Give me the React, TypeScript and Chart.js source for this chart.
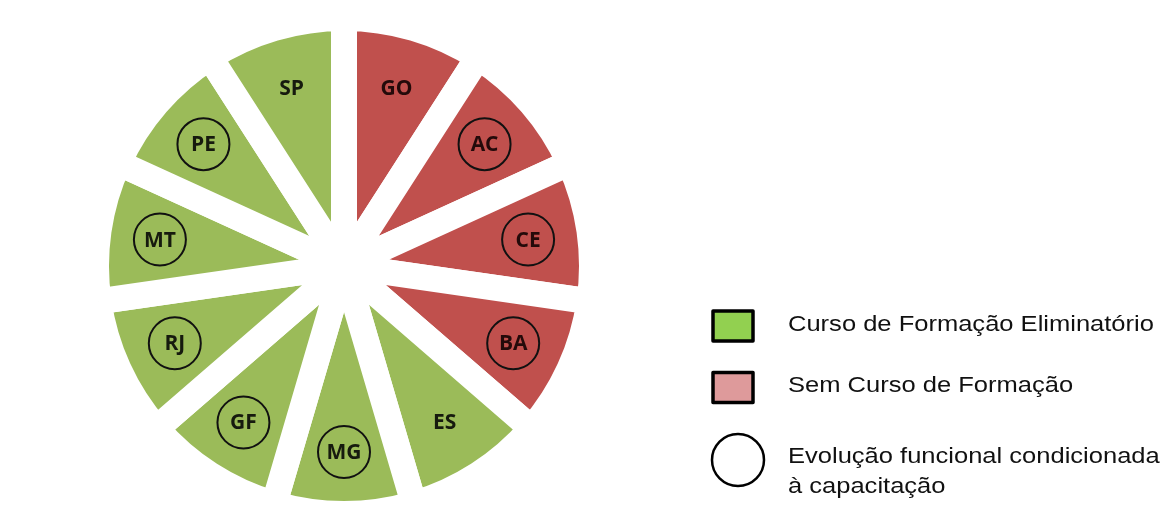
import { useEffect, useRef } from "react";
import { Chart, registerables } from "chart.js";

Chart.register(...registerables);

// States in clockwise order, starting at twelve o'clock
const states = ["GO", "AC", "CE", "BA", "ES", "MG", "GF", "RJ", "MT", "PE", "SP"];
// Every state gets an equal share of the wheel
const shares = [1, 1, 1, 1, 1, 1, 1, 1, 1, 1, 1];
// true = eliminatory training course, false = no training course
const eliminatoryCourse = [false, false, false, false, true, true, true, true, true, true, true];
// true = career progression conditioned on training (circled)
const conditionedProgression = [false, true, true, true, false, true, true, true, true, true, false];

const legendTexts: (string | string[])[] = [
  "Curso de Formação Eliminatório",
  "Sem Curso de Formação",
  ["Evolução funcional condicionada", "à capacitação"],
];

const GREEN = "#9BBB59";
const RED = "#C0504D";
const LEGEND_GREEN = "#92D050";
const LEGEND_PINK = "#DE9A9B";

const sliceLabels = {
  id: "sliceLabels",
  afterDatasetsDraw(chart: any) {
    const ctx: CanvasRenderingContext2D = chart.ctx;
    const meta = chart.getDatasetMeta(0);
    meta.data.forEach((arc: any, i: number) => {
      const { x, y, startAngle, endAngle, outerRadius } = arc.getProps(
        ["x", "y", "startAngle", "endAngle", "outerRadius"],
        true
      );
      const mid = (startAngle + endAngle) / 2;
      const r = outerRadius * 0.75;
      const cx = x + Math.cos(mid) * r;
      const cy = y + Math.sin(mid) * r;
      ctx.save();
      if (conditionedProgression[i]) {
        ctx.beginPath();
        ctx.arc(cx, cy, 26, 0, Math.PI * 2);
        ctx.lineWidth = 2;
        ctx.strokeStyle = "#111111";
        ctx.stroke();
      }
      ctx.font = "bold 21px 'Open Sans', 'Noto Sans', sans-serif";
      ctx.textAlign = "center";
      ctx.textBaseline = "middle";
      ctx.fillStyle = eliminatoryCourse[i] ? "#161a0e" : "#240a0a";
      ctx.fillText(states[i], cx, cy + 1);
      ctx.restore();
    });
  },
};

const drawWideText = (ctx: CanvasRenderingContext2D, text: string, x: number, y: number) => {
  ctx.save();
  ctx.translate(x, y);
  ctx.scale(1.16, 1);
  ctx.fillText(text, 0, 0);
  ctx.restore();
};

const stateLegend = {
  id: "stateLegend",
  afterDraw(chart: any) {
    const ctx: CanvasRenderingContext2D = chart.ctx;
    ctx.save();
    ctx.lineJoin = "round";
    ctx.strokeStyle = "#000000";

    // colour boxes
    const boxes = [
      { fill: LEGEND_GREEN, y: 311 },
      { fill: LEGEND_PINK, y: 372.5 },
    ];
    boxes.forEach((b) => {
      ctx.beginPath();
      ctx.rect(713, b.y, 40, 30);
      ctx.fillStyle = b.fill;
      ctx.fill();
      ctx.lineWidth = 3.5;
      ctx.stroke();
    });

    // open circle symbol
    ctx.beginPath();
    ctx.arc(738, 460, 26, 0, Math.PI * 2);
    ctx.lineWidth = 2.5;
    ctx.stroke();

    ctx.fillStyle = "#111111";
    ctx.font = "22px 'Liberation Sans', Arial, sans-serif";
    ctx.textAlign = "left";
    ctx.textBaseline = "alphabetic";
    const baselines = [331, 392, [463, 493]];
    legendTexts.forEach((t, i) => {
      if (Array.isArray(t)) {
        const bl = baselines[i] as number[];
        t.forEach((line, j) => drawWideText(ctx, line, 788, bl[j]));
      } else {
        drawWideText(ctx, t, 788, baselines[i] as number);
      }
    });
    ctx.restore();
  },
};

export default function App() {
  const canvasRef = useRef<HTMLCanvasElement | null>(null);

  useEffect(() => {
    if (!canvasRef.current) return;
    const chart = new Chart(canvasRef.current, {
      type: "pie",
      data: {
        labels: states,
        datasets: [
          {
            data: shares,
            backgroundColor: eliminatoryCourse.map((e) => (e ? GREEN : RED)),
            borderColor: "#ffffff",
            borderWidth: 26,
            hoverOffset: 0,
            offset: 0,
            radius: 248,
            clip: false,
          } as any,
        ],
      },
      options: {
        responsive: false,
        animation: false,
        events: [],
        layout: { padding: { top: 18, bottom: 5, left: 96, right: 579 } },
        plugins: {
          legend: { display: false },
          tooltip: { enabled: false },
        },
      },
      plugins: [sliceLabels, stateLegend],
    });
    return () => chart.destroy();
  }, []);

  return (
    <div style={{ position: "fixed", left: 0, top: 0, width: 1171, height: 519, background: "#ffffff" }}>
      <canvas ref={canvasRef} width={1171} height={519} style={{ width: 1171, height: 519, display: "block" }} />
    </div>
  );
}
